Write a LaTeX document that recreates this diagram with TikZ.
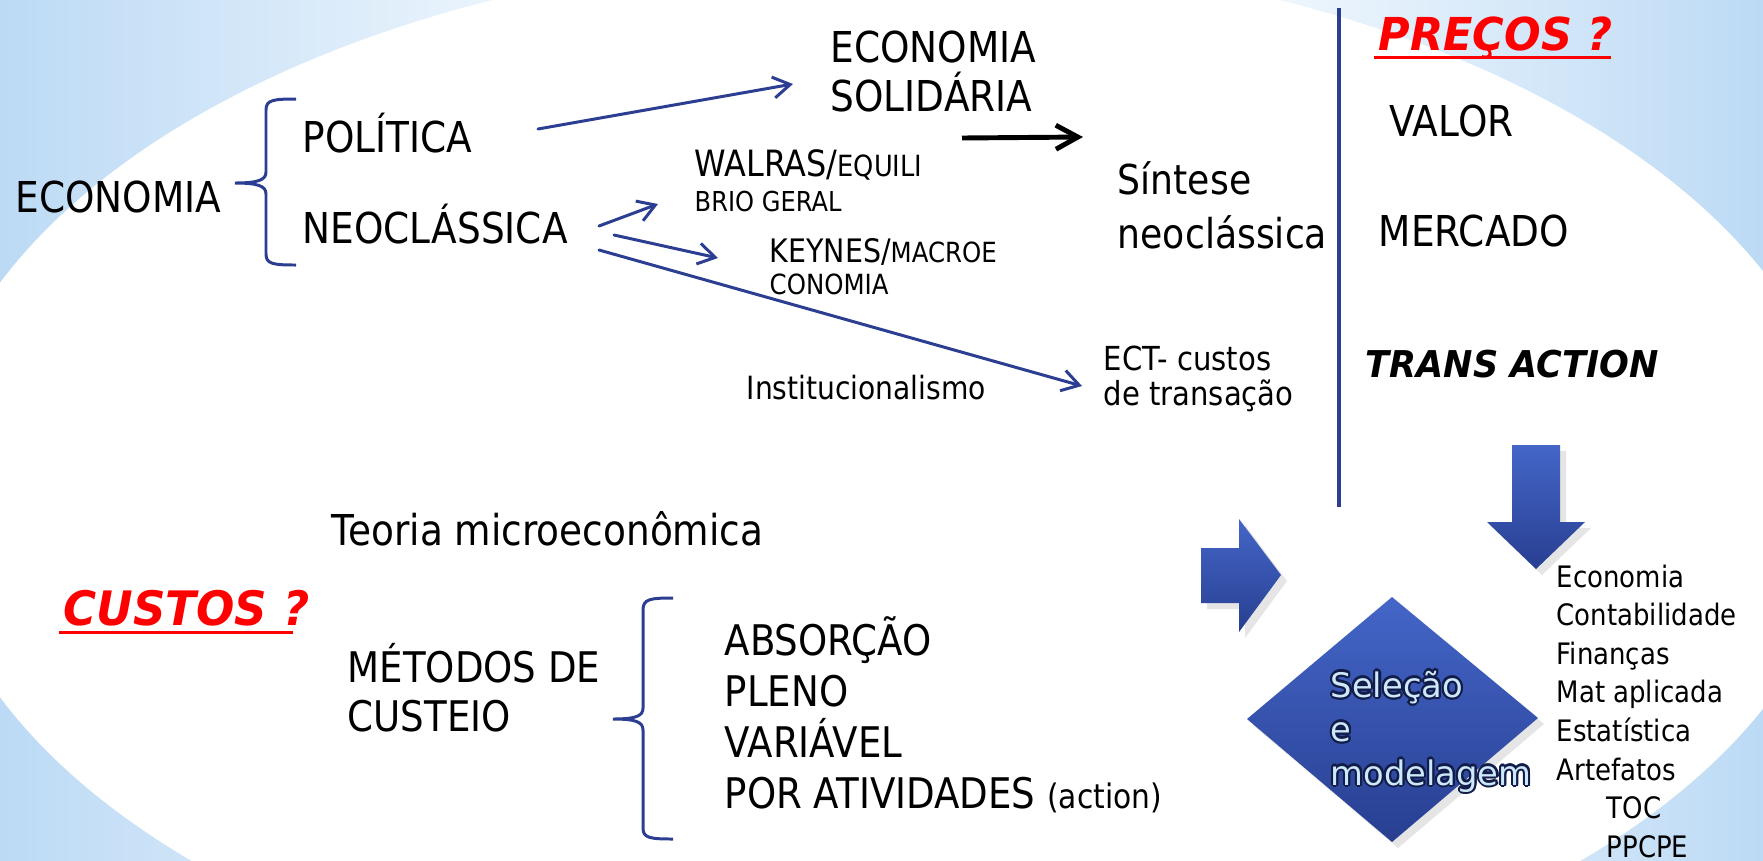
\documentclass[tikz,border=0pt]{standalone}
\usepackage{fontspec}
\setmainfont{DejaVu Sans}[FakeStretch=0.88]
\newfontfamily\headfont{DejaVu Sans}[FakeStretch=0.95]
\newfontfamily\diafont{DejaVu Sans}
\usepackage{contour}
\usetikzlibrary{calc,arrows.meta,shadows}
\definecolor{bgblue}{RGB}{188,218,245}
\definecolor{linkblue}{RGB}{44,62,145}
\definecolor{arrtop}{RGB}{68,102,200}
\definecolor{arrbot}{RGB}{40,63,145}
\definecolor{paleblue}{RGB}{205,232,250}
\definecolor{navy}{RGB}{18,28,72}
\definecolor{hotred}{RGB}{255,0,0}
\pgfdeclarehorizontalshading{backdrop}{100bp}{color(0bp)=(bgblue); color(25bp)=(bgblue); color(45bp)=(white); color(57bp)=(white); color(75bp)=(bgblue); color(100bp)=(bgblue)}
\newcommand\setfs[2]{\fontsize{#1}{#2}\selectfont}
\contourlength{0.6pt}

\begin{document}
\begin{tikzpicture}[
		x=0.01cm, y=-0.01cm,
		every node/.style={inner sep=0pt, anchor=base west, align=left},
		big/.style={font=\setfs{12.1}{13.9}},
		head/.style={font=\headfont\bfseries\itshape\setfs{12.9}{14}, text=hotred},
		link/.style={draw=linkblue, line width=0.85pt, line cap=round, -{Straight Barb[length=1.7mm, width=2.1mm]}},
		brace/.style={draw=linkblue, line width=0.85pt},
		block/.style={top color=arrtop, bottom color=arrbot, drop shadow={opacity=0.2, shadow xshift=0.6mm, shadow yshift=-0.6mm}}
		]
		\useasboundingbox (0,0) rectangle (1763,860);
		\begin{scope}
			\clip (0,0) rectangle (1763,860);
			\shade[shading=backdrop] (0,0) rectangle (1763,860);
			\fill[white] (886,490) ellipse [x radius=960, y radius=537];
		\end{scope}
		
		\draw[brace] (296,99) .. controls (273,99) and (266,100) .. (266,110) -- (266,172)
			.. controls (266,180) and (258,183) .. (235,183)
			.. controls (258,183) and (266,186) .. (266,194) -- (266,254)
			.. controls (266,264) and (273,265) .. (296,265);
		\draw[brace] (673,598) .. controls (650,598) and (643,599) .. (643,610) -- (643,708)
			.. controls (643,716) and (636,719) .. (613,719)
			.. controls (636,719) and (643,722) .. (643,730) -- (643,828)
			.. controls (643,838) and (650,839) .. (673,839);
		\draw[linkblue, line width=0.9pt] (1339,8) -- (1339,507);
		
		\path[block] (1201,548) -- (1239,548) -- (1239,519) -- (1281,575) -- (1239,632) -- (1239,603) -- (1201,603) -- cycle;
		\path[block] (1512,445) -- (1560,445) -- (1560,522) -- (1585,522) -- (1536,569) -- (1487,522) -- (1512,522) -- cycle;
		\path[block] (1247,719) -- (1392,597) -- (1538,718) -- (1392,842) -- cycle;
		
		\node[big] (econ) at (15,212) {ECONOMIA};
		\node[big] (pol) at (302,152) {POLÍTICA};
		\node[big] (neo) at (302,243) {NEOCLÁSSICA};
		\node[big] (sol) at (830,111) {ECONOMIA\\SOLIDÁRIA};
		\node[font=\setfs{10.3}{9.7}] (walras) at (694,211) {WALRAS/{\setfs{8.3}{9.7}EQUILI}\\{\setfs{7.8}{9.7}BRIO GERAL}};
		\node[font=\setfs{9.2}{9.1}] (keynes) at (769,294) {KEYNES/{\setfs{7.9}{9.1}MACROE}\\{\setfs{7.9}{9.1}CONOMIA}};
		\node[font=\setfs{9.1}{10}] (inst) at (746,399) {Institucionalismo};
		\node[font=\setfs{9.4}{9.7}] (ect) at (1103,405) {ECT- custos\\de transação};
		\node[font=\setfs{11.7}{15.1}] (sint) at (1117,248) {Síntese\\neoclássica};
		\node[head] (precos) at (1378,50) {PREÇOS ?};
		\node[big] (valor) at (1389,136) {VALOR};
		\node[big] (merc) at (1378,246) {MERCADO};
		\node[font=\headfont\bfseries\itshape\setfs{10.5}{12}] (trans) at (1365,377) {TRANS ACTION};
		\node[font=\setfs{12.1}{14}] (teoria) at (331,545) {Teoria microeconômica};
		\node[head, font=\headfont\bfseries\itshape\setfs{13.5}{15}] (custos) at (63,625) {CUSTOS ?};
		\node[font=\setfs{12}{13.9}] (metodos) at (347,731) {MÉTODOS DE\\CUSTEIO};
		\node[font=\setfs{12}{14.5}] (absor) at (724,808) {ABSORÇÃO\\PLENO\\VARIÁVEL\\POR ATIVIDADES {\setfs{9.6}{14.5}(action)}};
		\node[font=\diafont\setfs{9.6}{12.5}, text=paleblue] (sel) at (1330,785) {\contour{navy}{Seleção}\\\contour{navy}{e}\\\contour{navy}{modelagem}};
		\node[font=\setfs{8.4}{10.95}] (areas) at (1556,857) {Economia\\Contabilidade\\Finanças\\Mat aplicada\\Estatística\\Artefatos\\\hspace*{0.5cm}TOC\\\hspace*{0.5cm}PPCPE};
		
		\draw[hotred, line width=0.85pt] ($(precos.base west)+(-4,7)$) -- ($(precos.base west)+(233,7)$);
		\draw[hotred, line width=0.85pt] ($(custos.base west)+(-4,7)$) -- ($(custos.base west)+(230,7)$);
		
		\draw[link] ($(pol.base west)+(236,-23)$) -- ($(sol.base west)+(-37,-27)$);
		\draw[link] ($(neo.base west)+(297,-17)$) -- ($(walras.base west)+(-36,-7)$);
		\draw[link] ($(neo.base west)+(312,-8)$) -- ($(keynes.base west)+(-51,-36)$);
		\draw[link] ($(neo.base west)+(297,7)$) -- ($(ect.base west)+(-21,-19)$);
		\draw[black, line width=1.4pt, -{Straight Barb[length=2.2mm, width=2.4mm]}] ($(sol.base west)+(132,27)$) -- ($(sint.base west)+(-34,-111)$);
\end{tikzpicture}
\end{document}
